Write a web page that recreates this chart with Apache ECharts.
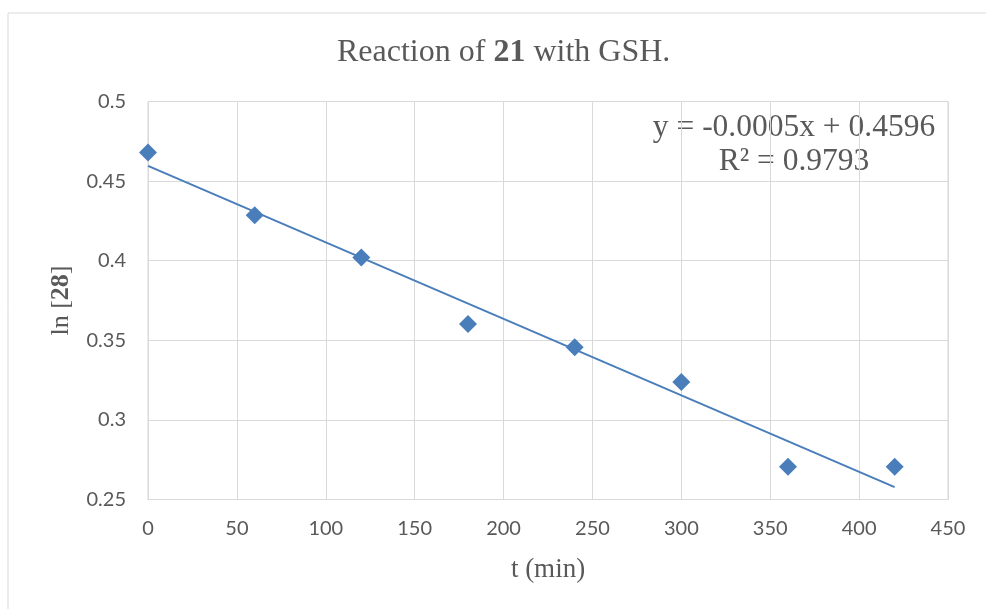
<!DOCTYPE html>
<html>
<head>
<meta charset="utf-8">
<script src="https://cdn.jsdelivr.net/npm/echarts@6/dist/echarts.min.js"></script>
<style>
html,body{margin:0;padding:0;background:#fff;}
#chart{width:986px;height:609px;}
</style>
</head>
<body>
<div id="chart"></div>
<script>
// Data
var timeMin = [0, 60, 120, 180, 240, 300, 360, 420];
var lnConc = [0.468, 0.4285, 0.402, 0.3602, 0.3456, 0.3238, 0.2706, 0.2706];
var xTicks = [0, 50, 100, 150, 200, 250, 300, 350, 400, 450];
var yTicks = [0.25, 0.3, 0.35, 0.4, 0.45, 0.5];
var equationLines = ['y = -0.0005x + 0.4596', 'R² = 0.9793'];

// Linear least-squares trendline (as Excel draws it)
function linearFit(xs, ys) {
  var n = xs.length, sx = 0, sy = 0, sxx = 0, sxy = 0;
  for (var i = 0; i < n; i++) { sx += xs[i]; sy += ys[i]; sxx += xs[i]*xs[i]; sxy += xs[i]*ys[i]; }
  var m = (n*sxy - sx*sy) / (n*sxx - sx*sx);
  var b = (sy - m*sx) / n;
  return {m: m, b: b};
}
var fit = linearFit(timeMin, lnConc);
var xFirst = timeMin[0], xLast = timeMin[timeMin.length-1];
var trendData = [[xFirst, fit.m*xFirst + fit.b], [xLast, fit.m*xLast + fit.b]];

var points = timeMin.map(function(t, i){ return [t, lnConc[i]]; });

var chart = echarts.init(document.getElementById('chart'), null, {renderer: 'canvas'});
var gridColor = '#d9d9d9';
var textColor = '#595959';
var blue = '#4a7ebb';
var labelFont = 'Lato, "Liberation Sans", sans-serif';
var serif = '"Liberation Serif", "Times New Roman", serif';

chart.setOption({
  animation: false,
  backgroundColor: '#ffffff',
  title: {
    text: 'Reaction of {b|21} with GSH.',
    left: 332,
    top: 32,
    textStyle: {
      fontFamily: serif, fontSize: 32, fontWeight: 'normal', color: textColor,
      rich: { b: { fontFamily: serif, fontSize: 32, fontWeight: 'bold', color: textColor } }
    }
  },
  grid: { left: 148, right: 38, top: 101.5, bottom: 109.5, show: true, borderColor: gridColor, borderWidth: 1 },
  xAxis: {
    type: 'value', min: xTicks[0], max: xTicks[xTicks.length-1], interval: xTicks[1]-xTicks[0],
    name: 't (min)', nameLocation: 'middle', nameGap: 57,
    nameTextStyle: { fontFamily: serif, fontSize: 27, color: textColor },
    axisLine: { show: true, lineStyle: { color: gridColor, width: 1 } },
    axisTick: { show: false },
    axisLabel: { color: textColor, fontFamily: labelFont, fontSize: 20, margin: 19 },
    splitLine: { show: true, lineStyle: { color: gridColor, width: 1 } }
  },
  yAxis: {
    type: 'value', min: yTicks[0], max: yTicks[yTicks.length-1], interval: 0.05,
    name: 'ln [{b|28}]', nameLocation: 'middle', nameGap: 74, nameRotate: 90,
    nameTextStyle: { fontFamily: serif, fontSize: 26, color: textColor,
      rich: { b: { fontFamily: serif, fontSize: 26, fontWeight: 'bold', color: textColor } } },
    axisLine: { show: true, lineStyle: { color: gridColor, width: 1 } },
    axisTick: { show: false },
    axisLabel: { color: textColor, fontFamily: labelFont, fontSize: 20, margin: 22,
      formatter: function(v){ return String(parseFloat(v.toFixed(4))); } },
    splitLine: { show: true, lineStyle: { color: gridColor, width: 1 } }
  },
  series: [
    {
      type: 'line', data: trendData, showSymbol: false, symbol: 'none',
      lineStyle: { color: blue, width: 2 }, silent: true, z: 2
    },
    {
      type: 'scatter', data: points, symbol: 'diamond', symbolSize: [18, 18],
      itemStyle: { color: blue, opacity: 1 }, z: 3
    }
  ],
  graphic: [
    {
      type: 'rect', left: 5.5, top: 10.5, silent: true,
      shape: { x: 0, y: 0, width: 1100, height: 700 },
      style: { fill: 'none', stroke: gridColor, lineWidth: 1 }
    },
    {
      type: 'text', x: 794, y: 111,
      style: {
        text: equationLines.join('\n'), align: 'center', verticalAlign: 'top',
        font: '31.5px ' + serif, fill: textColor, lineHeight: 34
      }
    }
  ]
});
</script>
</body>
</html>
